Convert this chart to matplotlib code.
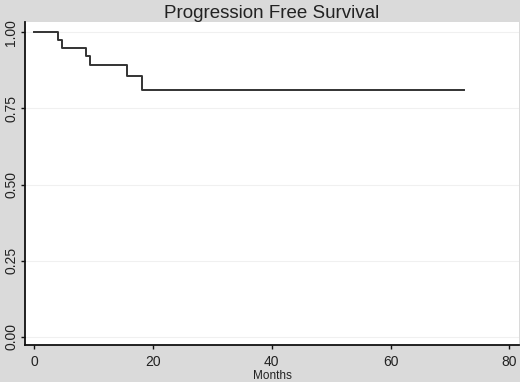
import matplotlib
matplotlib.use("Agg")
import matplotlib.pyplot as plt

plt.rcParams["font.family"] = ["Liberation Sans", "DejaVu Sans"]

# Kaplan-Meier step points
months = [0, 4.1, 4.8, 8.7, 9.4, 15.6, 18.2, 72.3]
survival = [1.00, 0.974, 0.949, 0.921, 0.892, 0.855, 0.81, 0.81]
x_ticks = [0, 20, 40, 60, 80]
y_ticks = [0.00, 0.25, 0.50, 0.75, 1.00]
y_labels = ["0.00", "0.25", "0.50", "0.75", "1.00"]

fig = plt.figure(figsize=(5.2, 3.82), dpi=100, facecolor="#dadada")
ax = fig.add_axes([25 / 520, 1 - 345 / 382, 494 / 520, 323 / 382])
ax.set_facecolor("white")

ax.step(months, survival, where="post", color="#333333", linewidth=1.4)

ax.set_xlim(-1.5, 81.6)
ax.set_ylim(-0.027, 1.034)
ax.set_xticks(x_ticks)
ax.set_yticks(y_ticks)
ax.set_yticklabels(y_labels, rotation=90, va="center")
ax.grid(axis="y", color="#f0f0f0", linewidth=0.8)
ax.set_axisbelow(True)

for s in ["top", "right"]:
    ax.spines[s].set_visible(False)
for s in ["left", "bottom"]:
    ax.spines[s].set_color("#111111")
    ax.spines[s].set_linewidth(1.3)

ax.tick_params(axis="both", direction="out", length=3, width=1, color="#111111",
               labelsize=10, labelcolor="#222222", pad=4)
ax.tick_params(axis="y", pad=2)

ax.set_xlabel("Months", fontsize=8.5, color="#222222", labelpad=1)
ax.set_title("Progression Free Survival", fontsize=13.5, color="#222222", pad=3)

fig.savefig("out.png", dpi=100, facecolor=fig.get_facecolor())
